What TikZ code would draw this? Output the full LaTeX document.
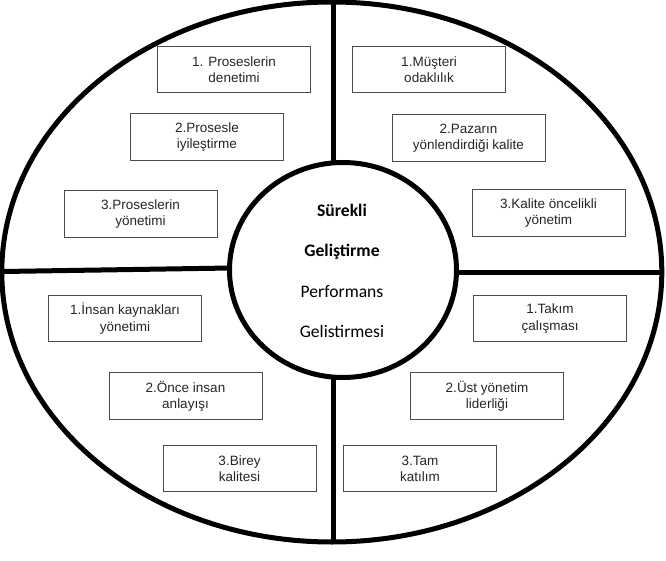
\documentclass[tikz,border=0pt]{standalone}
\usepackage{fontspec}
\setmainfont{Liberation Sans}
\newfontfamily\calib{Carlito}
\usetikzlibrary{shapes.geometric}
\begin{document}
\begin{tikzpicture}[x=1pt,y=-1pt,
  bx/.style={draw=black!70, line width=0.9pt, minimum width=153pt, minimum height=46.5pt,
    inner sep=0pt, align=center, text=black!85, font=\fontsize{13.5}{16.2}\selectfont},
  thick line/.style={line width=5pt, black},
  core/.style={ellipse, draw, line width=5pt, minimum width=227pt, minimum height=215pt,
    inner sep=0pt, fill=white},
  coretext/.style={align=center, font=\calib\fontsize{17.6}{40.5}\selectfont}]
\useasboundingbox (0,0) rectangle (666,561);
\fill[white] (0,0) rectangle (666,561);
% outer ellipse
\draw[thick line] (331.8,272) ellipse [x radius=330pt, y radius=270pt];
% dividing lines
\coordinate (ttop) at (333,2);
\coordinate (tbot) at (333,164);
\coordinate (btop) at (333,376);
\coordinate (bbot) at (333,542);
\coordinate (lout) at (3,271.5);
\coordinate (lin) at (231,268);
\coordinate (rin) at (455,272);
\coordinate (rout) at (662,272);
\draw[thick line] (ttop) -- (tbot);
\draw[thick line] (btop) -- (bbot);
\draw[thick line] (lout) -- (lin);
\draw[thick line] (rin) -- (rout);
% centre circle
\node[core] (c) at (343,270) {};
\node[coretext] (ct) at (342,271) {\textbf{Sürekli}\\\textbf{Geliştirme}\\Performans\\Gelistirmesi};
% boxes
\node[bx] (a1) at (234,69.5) {1. Proseslerin\\denetimi};
\node[bx] (a2) at (207,137) {2.Prosesle\\iyileştirme};
\node[bx] (a3) at (140.5,214) {3.Proseslerin\\yönetimi};
\node[bx] (b1) at (429,69.5) {1.Müşteri\\odaklılık};
\node[bx] (b2) at (468.5,138) {2.Pazarın\\yönlendirdiği kalite};
\node[bx] (b3) at (548.5,213) {3.Kalite öncelikli\\yönetim};
\node[bx] (c1) at (125,318.5) {1.İnsan kaynakları\\yönetimi};
\node[bx] (c2) at (185.5,396) {2.Önce insan\\anlayışı};
\node[bx] (c3) at (239.5,468.5) {3.Birey\\kalitesi};
\node[bx] (d1) at (550,318.5) {1.Takım\\çalışması};
\node[bx] (d2) at (487,396) {2.Üst yönetim\\liderliği};
\node[bx] (d3) at (420,468.5) {3.Tam\\katılım};
\end{tikzpicture}
\end{document}
